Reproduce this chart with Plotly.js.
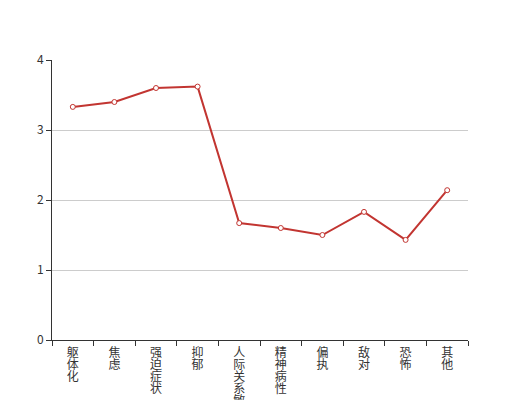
<!DOCTYPE html>
<html>
<head>
<meta charset="utf-8">
<script src="https://cdn.plot.ly/plotly-3.0.1.min.js"></script>
<style>html,body{margin:0;padding:0;background:#fff;}#chart{width:520px;height:400px;}</style>
</head>
<body>
<div id="chart"></div>
<script>
var categories = ['躯体化', '焦虑', '强迫症状', '抑郁', '人际关系敏感', '精神病性', '偏执', '敌对', '恐怖', '其他'];
var values = [3.33, 3.40, 3.60, 3.62, 1.67, 1.60, 1.50, 1.83, 1.43, 2.14];
var yTicks = [0, 1, 2, 3, 4];

var vertLabels = categories.map(function (c) { return c.split('').join('<br>'); });

var trace = {
  type: 'scatter',
  mode: 'lines+markers',
  x: categories,
  y: values,
  line: { color: '#c23531', width: 2 },
  marker: { size: 5, color: '#ffffff', line: { color: '#c23531', width: 1 } },
  hoverinfo: 'x+y'
};

var layout = {
  width: 520,
  height: 400,
  margin: { l: 52, r: 52, t: 60, b: 60 },
  paper_bgcolor: '#fff',
  plot_bgcolor: '#fff',
  showlegend: false,
  font: { family: '"Noto Sans CJK SC", "Noto Sans", sans-serif', size: 12, color: '#333' },
  xaxis: {
    type: 'category',
    range: [-0.5, categories.length - 0.5],
    tickmode: 'array',
    tickvals: categories,
    ticktext: vertLabels,
    tickson: 'boundaries',
    ticks: 'outside',
    ticklen: 5,
    tickcolor: '#333',
    ticklabelstandoff: 2,
    showline: true,
    linecolor: '#333',
    linewidth: 1,
    showgrid: false,
    zeroline: false,
    tickangle: 0,
    tickfont: { size: 12, color: '#333' },
    fixedrange: true
  },
  yaxis: {
    range: [0, 4],
    tickmode: 'array',
    tickvals: yTicks,
    ticks: 'outside',
    ticklen: 5,
    tickcolor: '#333',
    showline: true,
    linecolor: '#333',
    linewidth: 1,
    showgrid: true,
    gridcolor: '#ccc',
    gridwidth: 1,
    zeroline: false,
    tickfont: { size: 12, color: '#333' },
    fixedrange: true
  }
};

Plotly.newPlot('chart', [trace], layout, { displayModeBar: false, staticPlot: true }).then(function (gd) {
  // tighten the line spacing of the stacked (vertical) category labels
  var factor = 0.76;
  gd.querySelectorAll('.xtick text tspan.line').forEach(function (t) {
    var dy = t.getAttribute('dy');
    if (dy && /em$/.test(dy)) {
      t.setAttribute('dy', (parseFloat(dy) * factor) + 'em');
    }
  });
});
</script>
</body>
</html>
